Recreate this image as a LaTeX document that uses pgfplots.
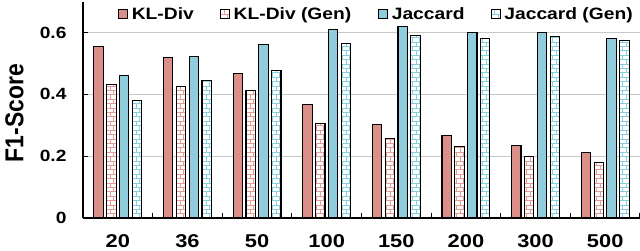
\documentclass[border=0pt]{standalone}
\usepackage{pgfplots}
\pgfplotsset{compat=1.18}
\usepackage{graphicx}
\usepackage{fontspec}
\setmainfont{Liberation Sans}
\newfontfamily\bsf[FakeStretch=1.18]{Liberation Sans Bold}
\newfontfamily\lsf[FakeStretch=1.17]{Liberation Sans Bold}
\newfontfamily\ylabfont{Liberation Sans Bold}
\definecolor{klc}{HTML}{DC8E88}
\definecolor{jacc}{HTML}{8FCDDC}
\definecolor{klpat}{HTML}{E89B94}
\definecolor{jacpat}{HTML}{86D0DF}
\newcommand\brickfill[1]{%
  \pgfsetstrokecolor{#1}\pgfsetlinewidth{0.6bp}%
  \pgfpointanchor{path picture bounding box}{south west}%
  \pgfgetlastxy{\bx}{\by}%
  \foreach \i in {0,...,52}{%
    \pgfpathmoveto{\pgfpoint{\bx}{\by+\i*4.4bp}}%
    \pgfpathlineto{\pgfpoint{\bx+600bp}{\by+\i*4.4bp}}%
    \pgfusepath{stroke}}%
  \foreach \j in {0,...,85}{%
    \pgfsetdash{{4.4bp}{4.4bp}}{0bp}%
    \pgfpathmoveto{\pgfpoint{\bx+\j*7bp}{\by}}%
    \pgfpathlineto{\pgfpoint{\bx+\j*7bp}{\by+240bp}}%
    \pgfusepath{stroke}%
    \pgfsetdash{{4.4bp}{4.4bp}}{4.4bp}%
    \pgfpathmoveto{\pgfpoint{\bx+\j*7bp+3.5bp}{\by}}%
    \pgfpathlineto{\pgfpoint{\bx+\j*7bp+3.5bp}{\by+240bp}}%
    \pgfusepath{stroke}}%
}
\pgfplotsset{
  mylegend/.style={legend image code/.code={\draw[##1] (0bp,-4.5bp) rectangle (9bp,4.5bp);}},
  solidbar/.style={ybar, bar width=0.135, bar shift=#1, draw=black, line width=1.1bp, mylegend},
  genbar/.style 2 args={ybar, bar width=0.135, bar shift=#1, draw=black, fill=white, line width=1.1bp,
     path picture={\brickfill{#2}}, mylegend},
}
\begin{document}
\begin{tikzpicture}
\begin{axis}[
  scale only axis,
  width=557bp, height=216.5bp,
  xmin=-0.5, xmax=7.5, ymin=0, ymax=0.7,
  enlargelimits=false,
  axis x line=bottom, axis y line=left,
  axis line style={-, line width=1.1bp, black},
  xtick={0,...,7},
  xticklabels={20,36,50,100,150,200,300,500},
  minor xtick={0.5,1.5,2.5,3.5,4.5,5.5,6.5,7.5},
  every major x tick/.style={draw=none},
  ytick={0,0.2,0.4,0.6},
  yticklabels={0,0.2,0.4,0.6},
  tick align=inside,
  major tick length=5bp, minor tick length=5bp,
  tick style={black, line width=1bp},
  ymajorgrids,
  grid style={line width=0.6bp, draw=black!22},
  xticklabel style={font=\bsf\fontsize{18.6}{20}\selectfont, yshift=-13bp},
  yticklabel style={font=\bsf\fontsize{16.3}{18}\selectfont, xshift=-13bp},
  ylabel={\scalebox{1}[1.13]{\ylabfont\fontsize{23}{26}\selectfont F1-Score}},
  ylabel style={at={(axis description cs:-0.123,0.485)}, anchor=center},
  legend columns=4,
  legend style={draw=none, fill=none, inner sep=0pt,
     nodes={inner sep=0pt},
     at={(axis description cs:0.062,0.942)}, anchor=west,
     font=\lsf\fontsize{16.5}{18}\selectfont,
     /tikz/every odd column/.append style={column sep=4bp},
     /tikz/every even column/.append style={column sep=0bp}},
  legend cell align=left,
]
\coordinate (ll) at (rel axis cs:0,0);
\addplot[solidbar=-0.276, fill=klc] coordinates {(0,0.555) (1,0.520) (2,0.467) (3,0.368) (4,0.302) (5,0.267) (6,0.235) (7,0.212)};
\addlegendentry{\makebox[88.3bp][l]{KL-Div}}
\addplot[genbar={-0.092}{klpat}] coordinates {(0,0.432) (1,0.424) (2,0.411) (3,0.305) (4,0.257) (5,0.230) (6,0.199) (7,0.180)};
\addlegendentry{\makebox[144bp][l]{KL-Div (Gen)}}
\addplot[solidbar=0.092, fill=jacc] coordinates {(0,0.461) (1,0.521) (2,0.562) (3,0.610) (4,0.620) (5,0.599) (6,0.599) (7,0.580)};
\addlegendentry{\makebox[99bp][l]{Jaccard}}
\addplot[genbar={0.276}{jacpat}] coordinates {(0,0.379) (1,0.446) (2,0.476) (3,0.564) (4,0.591) (5,0.580) (6,0.588) (7,0.574)};
\addlegendentry{Jaccard (Gen)}
\end{axis}
\pgfresetboundingbox
\path ([shift={(-83bp,-33bp)}]ll) rectangle ([shift={(557bp,218bp)}]ll);
\end{tikzpicture}
\end{document}
